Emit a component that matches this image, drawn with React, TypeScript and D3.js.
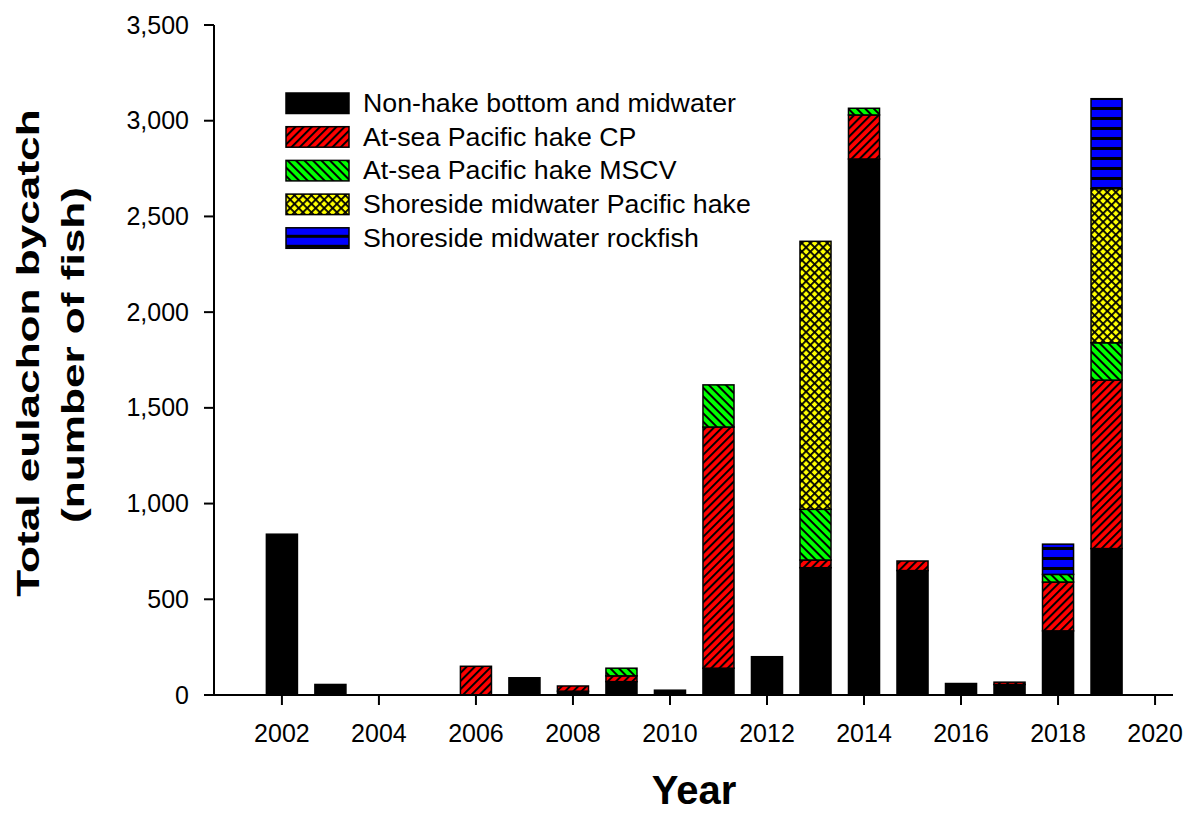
import React from "react";
import * as d3 from "d3";

// Eulachon bycatch (number of fish) by fishery sector and year
const years = [2002, 2003, 2004, 2005, 2006, 2007, 2008, 2009, 2010, 2011, 2012, 2013, 2014, 2015, 2016, 2017, 2018, 2019];
const nonHake = [840, 55, 0, 0, 0, 90, 20, 70, 25, 140, 200, 665, 2800, 650, 60, 55, 335, 765];
const atSeaCP = [0, 0, 0, 0, 150, 0, 27, 30, 0, 1260, 0, 40, 230, 50, 0, 12, 255, 880];
const atSeaMSCV = [0, 0, 0, 0, 0, 0, 0, 40, 0, 220, 0, 265, 35, 0, 0, 0, 40, 195];
const shoresideHake = [0, 0, 0, 0, 0, 0, 0, 0, 0, 0, 0, 1400, 0, 0, 0, 0, 0, 805];
const shoresideRockfish = [0, 0, 0, 0, 0, 0, 0, 0, 0, 0, 0, 0, 0, 0, 0, 0, 158, 470];

const seriesKeys = ["nonHake", "cp", "mscv", "shoreHake", "rockfish"];
const seriesLabels = [
  "Non-hake bottom and midwater",
  "At-sea Pacific hake CP",
  "At-sea Pacific hake MSCV",
  "Shoreside midwater Pacific hake",
  "Shoreside midwater rockfish",
];
const seriesFills = ["#000000", "url(#hatchRed)", "url(#hatchGreen)", "url(#crossYellow)", "url(#stripeBlue)"];

const xTicks = [2002, 2004, 2006, 2008, 2010, 2012, 2014, 2016, 2018, 2020];
const yTicks = [0, 500, 1000, 1500, 2000, 2500, 3000, 3500];

const rows = years.map((yr, i) => ({
  year: yr,
  nonHake: nonHake[i],
  cp: atSeaCP[i],
  mscv: atSeaMSCV[i],
  shoreHake: shoresideHake[i],
  rockfish: shoresideRockfish[i],
}));

const W = 1186;
const H = 813;
const FONT = "Arial, 'Liberation Sans', sans-serif";

export default function App() {
  const x = d3.scaleLinear().domain([2000.6, 2020.37]).range([214, 1173]);
  const y = d3.scaleLinear().domain([0, 3500]).range([695, 25]);
  const barW = x(2002.32) - x(2001.68);
  const stacked = d3.stack<any>().keys(seriesKeys)(rows);
  const fmt = d3.format(",");

  return (
    <svg width={W} height={H} style={{ position: "absolute", left: 0, top: 0, background: "#fff" }} fontFamily={FONT}>
      <defs>
        <pattern id="hatchRed" patternUnits="userSpaceOnUse" width="5.8" height="5.8" patternTransform="rotate(45)">
          <rect width="5.8" height="5.8" fill="#ff0000" />
          <rect width="2" height="5.8" fill="#000" />
        </pattern>
        <pattern id="hatchGreen" patternUnits="userSpaceOnUse" width="6" height="6" patternTransform="rotate(-45)">
          <rect width="6" height="6" fill="#00ff00" />
          <rect width="2" height="6" fill="#000" />
        </pattern>
        <pattern id="crossYellow" patternUnits="userSpaceOnUse" width="6" height="6" patternTransform="rotate(45)">
          <rect width="6" height="6" fill="#ffff00" />
          <rect width="1.8" height="6" fill="#000" />
          <rect width="6" height="1.8" fill="#000" />
        </pattern>
        <pattern id="stripeBlue" patternUnits="userSpaceOnUse" width="10" height="10">
          <rect width="10" height="10" fill="#0000ff" />
          <rect y="7" width="10" height="3" fill="#000" />
        </pattern>
      </defs>

      {/* stacked bars */}
      {stacked.map((layer, li) => (
        <g key={seriesKeys[li]}>
          {layer.map((d: any) => {
            const v = d[1] - d[0];
            if (v <= 0) return null;
            const yr = d.data.year;
            return (
              <rect
                key={yr}
                x={x(yr) - barW / 2}
                y={y(d[1])}
                width={barW}
                height={y(d[0]) - y(d[1])}
                fill={seriesFills[li]}
                stroke="#000"
                strokeWidth={1.5}
              />
            );
          })}
        </g>
      ))}

      {/* y axis */}
      <line x1={x.range()[0]} x2={x.range()[0]} y1={y(3500)} y2={y(0)} stroke="#000" strokeWidth={2} />
      {yTicks.map((t) => (
        <g key={t}>
          <line x1={x.range()[0] - 10} x2={x.range()[0]} y1={y(t)} y2={y(t)} stroke="#000" strokeWidth={2} />
          <text x={189} y={y(t) + 8.5} textAnchor="end" fontSize={25} fill="#000">
            {fmt(t)}
          </text>
        </g>
      ))}

      {/* x axis */}
      <line x1={x.range()[0]} x2={x.range()[1]} y1={y(0)} y2={y(0)} stroke="#000" strokeWidth={2} />
      {xTicks.map((t) => (
        <g key={t}>
          <line x1={x(t)} x2={x(t)} y1={y(0)} y2={y(0) + 10} stroke="#000" strokeWidth={2} />
          <text x={x(t)} y={742} textAnchor="middle" fontSize={25} fill="#000">
            {t}
          </text>
        </g>
      ))}

      {/* axis titles */}
      <text x={694} y={804} textAnchor="middle" fontSize={40} fontWeight="bold" fill="#000">
        Year
      </text>
      <g transform="translate(39,353) rotate(-90) scale(1.38,1)">
        <text textAnchor="middle" fontSize={32} fontWeight="bold" fill="#000">
          Total eulachon bycatch
        </text>
      </g>
      <g transform="translate(84,355) rotate(-90) scale(1.38,1)">
        <text textAnchor="middle" fontSize={32} fontWeight="bold" fill="#000">
          (number of fish)
        </text>
      </g>

      {/* legend */}
      {seriesLabels.map((lab, i) => (
        <g key={lab} transform={`translate(286,${93 + i * 33.7})`}>
          <rect width={63} height={20.5} fill={seriesFills[i]} stroke="#000" strokeWidth={1.5} />
          <text x={77} y={19} fontSize={25} fill="#000" transform="translate(77,0) scale(1.07,1) translate(-77,0)">
            {lab}
          </text>
        </g>
      ))}
    </svg>
  );
}
